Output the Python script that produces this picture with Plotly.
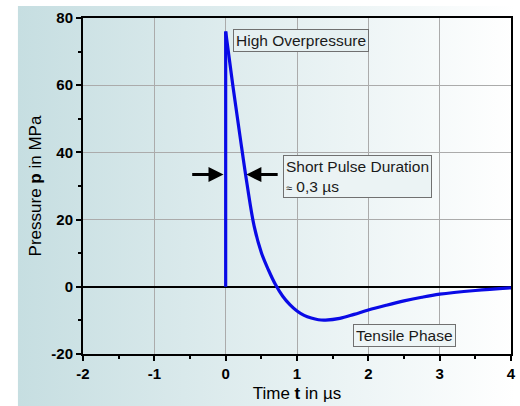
import base64
import plotly.graph_objects as go

# ---- data ----
rise_t = [0.0, 0.0]
rise_p = [0.0, 76.0]

decay_t = [0.0, 0.1, 0.2, 0.3, 0.4, 0.5, 0.6, 0.7, 0.8, 0.9, 1.0, 1.1, 1.2, 1.3, 1.4, 1.6, 1.8, 2.0, 2.25, 2.5, 2.75, 3.0, 3.5, 4.0]
decay_p = [76.0, 60.0, 45.0, 30.5, 18.0, 10.2, 5.0, 0.6, -2.8, -5.3, -7.2, -8.5, -9.3, -9.8, -9.9, -9.4, -8.2, -6.9, -5.5, -4.2, -3.1, -2.2, -1.1, -0.3]

x_ticks = [-2, -1, 0, 1, 2, 3, 4]
x_labels = ["-2", "-1", "0", "1", "2", "3", "4"]
y_ticks = [-20, 0, 20, 40, 60, 80]
y_labels = ["-20", "0", "20", "40", "60", "80"]

# ---- background gradient (decoration) ----
svg = ('<svg xmlns="http://www.w3.org/2000/svg" width="100" height="100" preserveAspectRatio="none">'
       '<defs><linearGradient id="g" x1="0" y1="0" x2="1" y2="0">'
       '<stop offset="0" stop-color="#c6dee1"/><stop offset="1" stop-color="#ffffff"/>'
       '</linearGradient></defs><rect width="100" height="100" fill="url(#g)"/></svg>')
src = "data:image/svg+xml;base64," + base64.b64encode(svg.encode()).decode()

FONT = "Liberation Sans, Arial"
BLUE = "#0a0ae6"
fig = go.Figure()
fig.add_trace(go.Scatter(x=rise_t, y=rise_p, mode="lines",
                         line=dict(color=BLUE, width=3.2), showlegend=False, hoverinfo="skip"))
fig.add_trace(go.Scatter(x=decay_t, y=decay_p, mode="lines",
                         line=dict(color=BLUE, width=3.2, shape="spline", smoothing=1.0),
                         showlegend=False, hoverinfo="skip"))

axis_common = dict(
    showline=True, linecolor="black", linewidth=2, mirror=True,
    ticks="outside", ticklen=5, tickwidth=2, tickcolor="black",
    showgrid=True, gridcolor="#ababab", gridwidth=1,
    tickfont=dict(family=FONT, size=15, color="black", weight="bold"),
)

fig.update_xaxes(range=[-2, 4], tickvals=x_ticks, ticktext=x_labels, zeroline=False,
                 minor=dict(ticks="outside", ticklen=3, tickwidth=2, tickcolor="black", dtick=0.5, showgrid=False),
                 title=dict(text="Time <b>t</b> in µs", font=dict(family=FONT, size=17, color="black"),
                            standoff=6),
                 **axis_common)
fig.update_yaxes(range=[-20, 80], tickvals=y_ticks, ticktext=y_labels, zeroline=True,
                 zerolinecolor="black", zerolinewidth=2,
                 minor=dict(ticks="outside", ticklen=3, tickwidth=2, tickcolor="black", dtick=10, showgrid=False),
                 title=dict(text="Pressure <b>p</b> in MPa", font=dict(family=FONT, size=17, color="black"),
                            standoff=5),
                 **axis_common)

box_font = dict(family=FONT, size=15.5, color="#1a1a1a")

def box(x, y, text, bg):
    fig.add_annotation(x=x, y=y, xref="x", yref="y", text=text, showarrow=False,
                       xanchor="left", yanchor="top", align="left", font=box_font,
                       bordercolor="#707070", borderwidth=1, borderpad=2, bgcolor=bg)

box(0.097, 76.8, "High Overpressure", "#e6f0f1")
box(0.806, 39.3, "Short Pulse Duration<br><span style='font-size:11px'>≈</span> 0,3 µs", "#ebf3f4")
box(-2.125, 16.4, "Short Rise Time<br><span style='font-size:11px'>≈</span> 10 ns", "#d6e7e9")
box(1.78, -11.0, "Tensile Phase", "#eef5f6")

# arrows
fig.add_annotation(x=-0.03, y=33.4, ax=-0.49, ay=33.4, axref="x", ayref="y", xref="x", yref="y",
                   text="", showarrow=True, arrowhead=2, arrowsize=1, arrowwidth=3, arrowcolor="black")
fig.add_annotation(x=0.29, y=33.4, ax=0.75, ay=33.4, axref="x", ayref="y", xref="x", yref="y",
                   text="", showarrow=True, arrowhead=2, arrowsize=1, arrowwidth=3, arrowcolor="black")

l, r, t, b = 83, 4, 18, 52
W, H = 520, 406
pw, ph = W - l - r, H - t - b
fig.add_layout_image(dict(source=src, xref="paper", yref="paper",
                          x=(17 - l) / pw, y=(H - b - 6) / ph,
                          sizex=(W - 17) / pw, sizey=(H - 6) / ph,
                          sizing="stretch", xanchor="left", yanchor="top", layer="below"))

fig.update_layout(width=W, height=H, margin=dict(l=l, r=r, t=t, b=b),
                  paper_bgcolor="white", plot_bgcolor="rgba(0,0,0,0)")

fig.write_html("out.html")
